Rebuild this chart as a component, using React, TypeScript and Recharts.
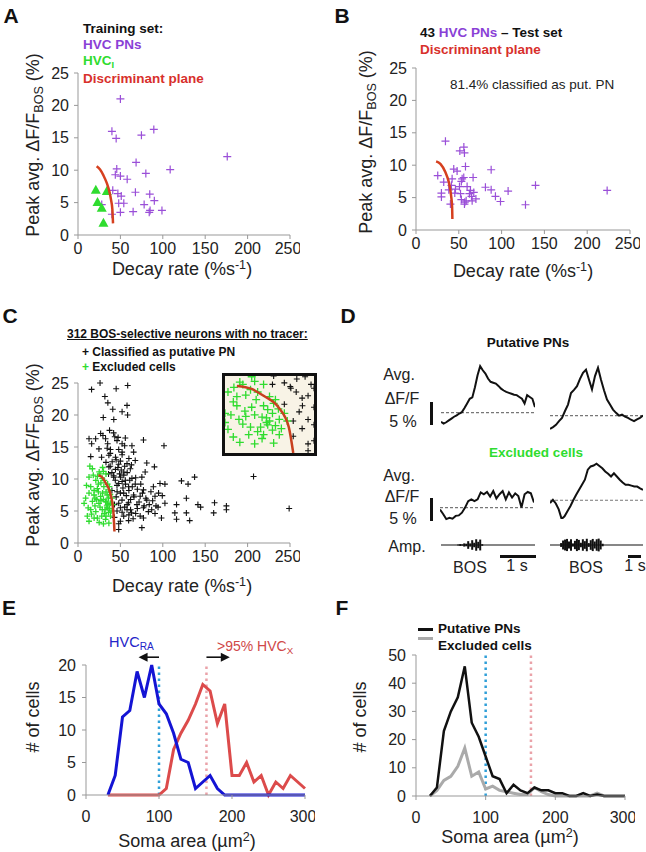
import React from 'react';
import {
  ScatterChart, Scatter, XAxis, YAxis, LineChart, Line, BarChart, Bar, ReferenceLine,
} from 'recharts';

const FONT = '"Liberation Sans", Arial, sans-serif';
const PURPLE = '#9a4fd8';
const PURPLE_TXT = '#8a3fd6';
const GREEN = '#2fdc2f';
const CURVE = '#d6401f';
const RED_TXT = '#d8302c';
const AXIS = '#999';
const E_BLUE = '#1414d4';
const E_RED = '#dc4b4b';
const DOT_BLUE = '#2f9fd8';
const DOT_PINK = '#eaa2a8';

// ---------- data ----------
const decayTicks = [0, 50, 100, 150, 200, 250];
const peakTicks = [0, 5, 10, 15, 20, 25];

const trainPN: [number, number][] = [
  [50, 21.0], [40, 16.0], [45, 14.9], [74.8, 15.4], [89.4, 16.3], [176, 12.1], [68.5, 11.2],
  [108.7, 10.1], [45.7, 10.2], [44, 9.3], [50, 9.1], [58, 8.6], [80, 9.5], [41, 6.9], [47, 6.4],
  [51, 6.0], [67.7, 6.6], [84.6, 6.3], [48, 4.9], [54, 4.9], [90, 5.3], [78, 4.7], [85, 3.8],
  [84, 3.5], [99, 3.8], [65, 3.6], [50, 3.5], [40, 3.2], [28, 4.7],
];
const trainInt: [number, number][] = [[21, 7.0], [34, 6.8], [23, 5.1], [28, 4.2], [30, 1.9]];
const planeA: [number, number][] = [[22, 10.6], [26, 10.1], [30, 9.2], [34, 8.0], [37, 6.7], [39, 5.4], [40.5, 4.0], [41.3, 1.8]];

const testPN: [number, number][] = [
  [34.4, 13.7], [51.2, 12.2], [55.9, 12.8], [56.6, 11.9], [57.8, 9.8], [25.4, 8.4], [32.4, 7.4],
  [44.1, 9.4], [48, 9.1], [53.9, 7.9], [55.8, 8.1], [66.7, 8.1], [87.8, 9.3], [41.4, 6.9],
  [46.1, 6.3], [50.8, 6.7], [59.7, 6.7], [63.6, 6.1], [62.4, 5.6], [67.5, 5.8], [81.1, 6.6],
  [87.8, 6.2], [92.8, 5.2], [98.7, 4.4], [107.6, 6.0], [127.9, 3.9], [139.6, 6.9], [223.3, 6.1],
  [29.7, 5.7], [29.7, 5.1], [40.2, 4.0], [53, 4.7], [57, 4.3], [58.6, 4.5], [64.8, 5.2], [70, 4.8],
  [45.3, 5.7], [52, 5.6], [65.6, 4.5], [38.3, 6.2], [56.6, 4.0], [42.2, 7.9], [53, 7.5],
];
const planeB: [number, number][] = [[23.5, 10.6], [28.5, 10.2], [34.4, 8.9], [38.3, 7.4], [41, 5.3], [42.2, 3.5], [42.5, 1.7]];

const noTracerPN: [number, number][] = [
  [16, 24.0], [26, 25.0], [45, 24.1], [58.6, 24.6], [31.7, 22.9], [35.2, 21.9], [41, 20.9], [57.8, 21.5],
  [52, 20.5], [58.5, 20.0], [29.8, 19.6], [42.2, 19.3], [37.2, 17.6], [26.7, 17.1], [13, 16.3], [20.8, 16.3],
  [29.4, 16.8], [32.5, 16.3], [43.4, 16.6], [47.3, 16.5], [55.8, 16.4], [77.2, 16.1], [101.4, 15.2], [16.1, 15.5],
  [24.7, 14.7], [34.4, 14.8], [38.3, 14.6], [52, 15.5], [63.6, 15.2], [15, 13.5], [27.8, 13.4], [36.4, 13.7],
  [44.2, 13.4], [52, 14.2], [65.6, 14.2], [40.3, 12.7], [48, 12.3], [57.8, 12.4], [67.5, 12.9], [36.4, 11.9],
  [44.2, 11.5], [54, 11.1], [61.7, 11.6], [81.1, 12.5], [90.1, 11.9], [42.2, 10.3], [50, 10.3], [55.8, 9.8],
  [63.6, 10.1], [75.3, 10.3], [79.2, 11.1], [48, 9.3], [59.7, 8.8], [67.5, 9.2], [77.2, 8.3], [88.9, 8.8],
  [96.7, 9.3], [102.5, 9.2], [46.1, 8.0], [53.9, 7.8], [65.6, 7.5], [73.3, 7.3], [81.1, 6.7], [90.8, 7.3],
  [99.4, 7.4], [51.9, 6.7], [59.7, 6.3], [69.5, 6.0], [77.2, 5.5], [86.9, 5.2], [94.4, 5.6], [102.5, 6.2],
  [50, 5.5], [57.8, 5.2], [63.2, 4.7], [73.3, 4.2], [83, 4.9], [90.8, 4.6], [98.4, 3.9], [53.9, 4.2],
  [50, 3.4], [59.7, 3.5], [77.2, 3.9], [75.3, 2.4], [48, 2.1], [122, 9.7], [129.8, 9.2], [137.5, 10.3],
  [116.2, 6.0], [127.8, 7.0], [114.2, 4.7], [127.8, 4.7], [116.2, 3.7], [131.7, 3.5], [141.4, 6.0], [144.6, 5.6],
  [161, 6.3], [160, 4.7], [175, 5.8], [175, 5.2], [207, 10.4], [249, 5.4],
  [38, 12.0], [40, 11.0], [42, 10.5], [44, 9.8], [46, 9.0], [47, 11.8], [49, 10.8], [50, 12.8], [51, 11.4],
  [52, 9.6], [53, 8.6], [54, 10.6], [55, 12.0], [56, 9.2], [57, 7.4], [58, 11.0], [60, 8.2], [61, 9.8],
  [62, 6.8], [64, 8.8], [66, 7.2], [68, 10.2], [70, 8.4], [72, 6.4], [74, 9.2], [76, 7.8], [78, 5.8],
  [80, 7.0], [84, 6.0], [86, 8.0], [88, 6.6], [92, 5.8], [95, 7.8], [45, 7.2], [48, 6.2], [50, 7.8],
  [52, 4.8], [55, 5.6], [58, 6.0], [60, 4.4], [62, 5.2], [65, 3.8], [68, 4.6], [70, 5.4], [45, 13.0],
  [48, 14.6], [52, 13.8], [55, 15.2], [60, 13.2], [63, 12.2], [38, 14.0], [35, 15.5], [42, 17.2], [46, 16.0],
  [33, 12.6], [36, 10.8], [40, 8.2], [43, 6.0], [46, 5.0], [48, 3.0], [43, 4.0],
];
const excluded: [number, number][] = [
  [17, 11.6], [25, 11.1], [13, 10.3], [21, 9.8], [28.6, 10.1], [15, 8.8], [22.8, 8.5], [30.5, 8.8], [36.4, 8.3],
  [13, 7.8], [18.9, 7.5], [26.7, 7.3], [34.4, 7.5], [7.2, 6.2], [17, 6.5], [24.7, 6.2], [32.5, 6.5], [38.3, 6.2],
  [15, 5.2], [21, 4.9], [28.6, 5.2], [34.4, 5.5], [13, 3.4], [22.8, 3.9], [32.5, 3.7], [38.3, 4.2], [36.4, 3.1],
  [10, 9.0], [12, 5.5], [14, 12.0], [18, 10.6], [20, 7.0], [23, 10.4], [24, 8.0], [26, 5.6], [27, 9.4], [29, 7.8],
  [30, 6.8], [31, 9.8], [32, 5.2], [33, 8.0], [34, 6.4], [35, 9.2], [36, 7.0], [37, 5.4], [38, 7.6], [30, 11.2],
  [33, 10.8], [35, 6.0], [37, 8.8], [39, 5.0], [40, 7.0], [41, 6.0], [28, 4.2], [25, 3.2], [19, 3.9], [16, 4.5],
  [11, 4.2], [9, 7.0], [19, 8.2], [27, 6.6], [31, 4.6], [33, 4.2], [34, 5.8], [36, 4.8], [30, 3.0], [20, 5.8],
  [22, 6.8], [26, 10.8], [29, 11.8], [24, 9.2],
];
const planeC: [number, number][] = [[24, 10.6], [29, 10.2], [33, 9.3], [38, 7.8], [41.5, 5.2], [43, 1.8]];
const insetX = [20, 50];
const insetY = [1.8, 11.9];

// D: average dF/F traces (%), evenly sampled
const putTraceA = [-2.0, -2.4, -2.1, -1.7, -1.3, -0.9, -0.6, -0.2, 0.1, 1.0, 2.0, 3.0, 3.3, 5.5, 8.1, 10.1, 9.2, 8.5, 7.4, 6.7, 6.5, 6.3, 5.8, 5.2, 4.8, 4.5, 4.3, 4.1, 3.9, 3.8, 3.4, 3.0, 2.0, 3.8, 3.4, 3.0, 1.2];
const putTraceB = [-2.9, -2.5, -2.0, -1.2, -0.5, 1.0, 2.4, 4.9, 5.6, 6.4, 8.0, 9.3, 10.0, 7.8, 5.7, 8.6, 10.4, 7.8, 5.5, 3.5, 2.4, 1.3, 0.6, 0, 0.2, -0.2, -0.5, -0.9, -1.2, -0.8, -0.5, 0];
const excTraceA = [-0.4, -1.4, -2.5, -2.2, -2.4, -1.8, -1.7, -1.1, 0, 1.4, 1.8, 1.4, 1.8, 3.3, 2.9, 3.4, 2.4, 3.6, 2.0, 2.9, 3.6, 1.8, 3.3, 2.2, 3.1, 2.5, 0, 2.9, 3.4, 3.1, 1.1];
const excTraceB = [-0.6, 0.1, -0.7, -2.0, -4.1, -3.5, -2.4, -1.3, 0.0, 1.2, 2.3, 3.4, 4.5, 6.7, 7.4, 7.6, 8.0, 7.5, 7.0, 6.3, 5.8, 5.2, 5.9, 5.2, 4.5, 3.9, 3.4, 3.4, 3.2, 3.0, 3.0, 2.6, 2.3];
const bosAmpA = [0, 0, 0, 0, 0, 0, 0, 0, 0.3, 0.6, 0.4, 1.0, 0.8, 2.4, 1.0, 3.0, 1.4, 3.6, 2.0, 3.4, 0.5, 0, 0, 0, 0, 0, 0, 0, 0, 0, 0, 0, 0, 0, 0, 0, 0, 0, 0, 0, 0, 0, 0, 0, 0, 0, 0];
const bosAmpB = [0, 0, 0, 0, 0, 1.2, 2.8, 3.4, 3.8, 2.2, 3.6, 1.0, 2.6, 3.8, 3.2, 1.4, 3.6, 2.4, 3.9, 1.2, 3.0, 3.8, 2.2, 3.6, 4.0, 2.8, 0.8, 0, 0, 0, 0, 0, 0, 0, 0, 0, 0, 0, 0, 0, 0, 0, 0, 0, 0, 0, 0];

// E: soma area histograms
const areaBinsE = [30, 40, 50, 60, 70, 80, 90, 100, 110, 120, 130, 140, 150, 160, 170, 180, 190, 200, 210, 220, 230, 240, 250, 260, 270, 280, 290, 300];
const hvcRA = [0, 3, 12, 13, 19, 15, 20, 14, 12.5, 9.5, 5.5, 5, 1, 2, 3, 1, 0, 0, 0, 0, 0, 0, 0, 0, 0, 0, 0, 0];
const hvcX = [0, 0, 0, 0, 0, 0, 0, 0, 1, 7, 9.5, 11.5, 14, 17, 16, 11, 14, 3, 3, 5, 2, 3, 0, 2, 1, 3, 2, 1];
const countTicksE = [0, 5, 10, 15, 20];
const areaTicks = [0, 100, 200, 300];
const raCutoff = 100;
const xCutoff = 165;

// F
const areaBinsF = [20, 30, 40, 50, 60, 70, 80, 90, 100, 110, 120, 130, 140, 150, 160, 170, 180, 190, 200, 210, 220, 230, 240, 250, 260, 270, 280, 290, 300];
const putPNs = [0, 3, 23, 30, 35, 46, 26, 21, 14, 7, 6, 1, 4, 2, 1, 3, 2, 2, 1, 1, 0, 0, 1, 0, 0.5, 0, 0, 0, 0];
const exclCells = [0, 2, 5.5, 7, 10.5, 17, 7, 8.5, 2.5, 3.5, 2, 1.5, 1, 0.5, 0.5, 3, 1.5, 0.5, 0, 0, 0, 0, 0, 0, 1, 0, 0, 0, 0];
const countTicksF = [0, 10, 20, 30, 40, 50];

// ---------- helpers ----------
const pts = (a: [number, number][]) => a.map(([x, y]) => ({ x, y }));

const cross = (color: string, r: number, sw: number) => (p: any) => (
  <path d={`M${p.cx - r},${p.cy}H${p.cx + r}M${p.cx},${p.cy - r}V${p.cy + r}`} stroke={color} strokeWidth={sw} fill="none" />
);
const triangle = (p: any) => (
  <polygon points={`${p.cx},${p.cy - 5} ${p.cx - 5},${p.cy + 4} ${p.cx + 5},${p.cy + 4}`} fill={GREEN} />
);
const noShape = () => <g />;

const Arrow = (p: any) => {
  const { x1, y1, x2, y2 } = p;
  const d = Math.sign(x2 - x1);
  return (
    <g>
      <line x1={x1} y1={y1} x2={x2 - d * 6} y2={y2} stroke="#111" strokeWidth={1.6} />
      <polygon points={`${x2},${y2} ${x2 - d * 9},${y2 - 4.5} ${x2 - d * 9},${y2 + 4.5}`} fill="#111" />
    </g>
  );
};

const tickStyle = { fontSize: 16, fill: '#222', fontFamily: FONT };

const Txt = ({ x, y, size = 16, bold = false, color = '#222', anchor = 'middle', children, style }: any) => (
  <div
    style={{
      position: 'absolute', left: x, top: y,
      transform: anchor === 'middle' ? 'translate(-50%,-50%)' : 'translate(0,-50%)',
      fontSize: size, fontWeight: bold ? 700 : 400, color, fontFamily: FONT,
      whiteSpace: 'nowrap', lineHeight: 1, ...style,
    }}
  >
    {children}
  </div>
);
const VTxt = ({ x, y, size = 18, children }: any) => (
  <div
    style={{
      position: 'absolute', left: x, top: y, transform: 'translate(-50%,-50%) rotate(-90deg)',
      fontSize: size, color: '#222', fontFamily: FONT, whiteSpace: 'nowrap', lineHeight: 1,
    }}
  >
    {children}
  </div>
);
const Sub = ({ children }: any) => <span style={{ fontSize: '0.7em', position: 'relative', top: '0.3em' }}>{children}</span>;
const Sup = ({ children }: any) => <span style={{ fontSize: '0.7em', position: 'relative', top: '-0.45em' }}>{children}</span>;

const PeakLabel = () => (<>Peak avg. ΔF/F<Sub>BOS</Sub> (%)</>);
const DecayLabel = () => (<>Decay rate (%s<Sup>-1</Sup>)</>);
const SomaLabel = () => (<>Soma area (µm<Sup>2</Sup>)</>);

const DecayChart = ({ left, top, width, height, margin, children }: any) => (
  <div style={{ position: 'absolute', left, top }}>
    <ScatterChart width={width} height={height} margin={margin}>
      <XAxis type="number" dataKey="x" domain={[0, 250]} ticks={decayTicks} height={40}
        tick={tickStyle} tickSize={4} tickMargin={4} axisLine={{ stroke: AXIS }} tickLine={{ stroke: AXIS }} />
      <YAxis type="number" dataKey="y" domain={[0, 25]} ticks={peakTicks} width={60}
        tick={tickStyle} tickSize={4} tickMargin={5} axisLine={{ stroke: AXIS }} tickLine={{ stroke: AXIS }} />
      {children}
    </ScatterChart>
  </div>
);

const Plane = ({ data, color = CURVE }: any) => (
  <Scatter data={pts(data)} line={{ stroke: color, strokeWidth: 2.5 }} lineJointType="monotoneX"
    shape={noShape} isAnimationActive={false} legendType="none" />
);

const Trace = ({ left, top, width, data }: any) => (
  <div style={{ position: 'absolute', left, top }}>
    <LineChart width={width} height={69} data={data.map((v: number, i: number) => ({ i, v }))}
      margin={{ top: 0, right: 0, bottom: 0, left: 0 }}>
      <XAxis dataKey="i" type="number" domain={[0, data.length - 1]} hide />
      <YAxis domain={[-4, 11]} hide />
      <ReferenceLine y={0} stroke="#777" strokeDasharray="3 2" strokeWidth={1.2} />
      <Line dataKey="v" stroke="#111" strokeWidth={2} dot={false} isAnimationActive={false} />
    </LineChart>
  </div>
);

const Amp = ({ left, top, width, data }: any) => (
  <div style={{ position: 'absolute', left, top }}>
    <BarChart width={width} height={16} data={data.map((a: number, i: number) => ({ i, r: [-a, a] }))}
      margin={{ top: 0, right: 0, bottom: 0, left: 0 }} barCategoryGap="10%">
      <XAxis dataKey="i" hide />
      <YAxis domain={[-5, 5]} hide />
      <ReferenceLine y={0} stroke="#111" strokeWidth={1.2} />
      <Bar dataKey="r" fill="#111" isAnimationActive={false} />
    </BarChart>
  </div>
);

const Bar2 = ({ left, top, width, height }: any) => (
  <div style={{ position: 'absolute', left, top, width, height, background: '#111' }} />
);

export default function App() {
  const eData = areaBinsE.map((a, i) => ({ area: a, ra: hvcRA[i], x: hvcX[i] }));
  const fData = areaBinsF.map((a, i) => ({ area: a, pn: putPNs[i], ex: exclCells[i] }));
  const inX = (p: [number, number]) => p[0] >= insetX[0] && p[0] <= insetX[1] && p[1] >= insetY[0] && p[1] <= insetY[1];

  return (
    <div style={{ position: 'absolute', left: 0, top: 0, width: 646, height: 852, background: '#fff', overflow: 'hidden', fontFamily: FONT }}>
      {/* ---------- A ---------- */}
      <DecayChart left={0} top={0} width={300} height={290} margin={{ top: 73, right: 10, bottom: 15, left: 18 }}>
        <Scatter data={pts(trainPN)} shape={cross(PURPLE, 4, 1.2)} isAnimationActive={false} />
        <Scatter data={pts(trainInt)} shape={triangle} isAnimationActive={false} />
        <Plane data={planeA} />
      </DecayChart>
      <Txt x={11} y={15} size={21} bold color="#111">A</Txt>
      <Txt x={83} y={29} size={13.5} bold color="#111" anchor="left">Training set:</Txt>
      <Txt x={83} y={45} size={13.5} bold color={PURPLE_TXT} anchor="left">HVC PNs</Txt>
      <Txt x={83} y={61} size={13.5} bold color={GREEN} anchor="left">HVC<Sub>I</Sub></Txt>
      <Txt x={83} y={79} size={13.5} bold color={RED_TXT} anchor="left">Discriminant plane</Txt>
      <Txt x={182} y={269} size={18}><DecayLabel /></Txt>
      <VTxt x={33} y={145}><PeakLabel /></VTxt>

      {/* ---------- B ---------- */}
      <DecayChart left={323} top={0} width={317} height={285} margin={{ top: 68, right: 10, bottom: 15, left: 33 }}>
        <Scatter data={pts(testPN)} shape={cross(PURPLE, 4, 1.2)} isAnimationActive={false} />
        <Plane data={planeB} />
      </DecayChart>
      <Txt x={342} y={15} size={21} bold color="#111">B</Txt>
      <Txt x={420} y={33} size={13.5} bold color="#111" anchor="left">43 <span style={{ color: PURPLE_TXT }}>HVC PNs</span> – Test set</Txt>
      <Txt x={420} y={50} size={13.5} bold color={RED_TXT} anchor="left">Discriminant plane</Txt>
      <Txt x={450} y={85} size={13.5} color="#222" anchor="left">81.4% classified as put. PN</Txt>
      <Txt x={523} y={271} size={18}><DecayLabel /></Txt>
      <VTxt x={366} y={142}><PeakLabel /></VTxt>

      {/* ---------- C ---------- */}
      <DecayChart left={0} top={300} width={300} height={298} margin={{ top: 83, right: 10, bottom: 15, left: 18 }}>
        <Scatter data={pts(noTracerPN)} shape={cross('#111', 3, 1.1)} isAnimationActive={false} />
        <Scatter data={pts(excluded)} shape={cross(GREEN, 3, 1.3)} isAnimationActive={false} />
        <Plane data={planeC} color="#c8401f" />
      </DecayChart>
      <div style={{ position: 'absolute', left: 222, top: 373, width: 89, height: 77, border: '3px solid #111', background: '#f8f3e6' }}>
        <ScatterChart width={89} height={77} margin={{ top: 0, right: 0, bottom: 0, left: 0 }}>
          <XAxis type="number" dataKey="x" domain={insetX} hide allowDataOverflow />
          <YAxis type="number" dataKey="y" domain={insetY} hide allowDataOverflow />
          <Scatter data={pts(noTracerPN.filter(inX))} shape={cross('#111', 3, 1.1)} isAnimationActive={false} />
          <Scatter data={pts(excluded.filter(inX))} shape={cross(GREEN, 4, 1.3)} isAnimationActive={false} />
          <Plane data={planeC} color="#c8401f" />
        </ScatterChart>
      </div>
      <Txt x={10} y={315} size={21} bold color="#111">C</Txt>
      <Txt x={67} y={334} size={12} bold color="#111" anchor="left" style={{ textDecoration: 'underline' }}>312 BOS-selective neurons with no tracer:</Txt>
      <Txt x={82} y={352} size={12} bold color="#111" anchor="left">+ Classified as putative PN</Txt>
      <Txt x={82} y={367} size={12} bold color="#111" anchor="left"><span style={{ color: GREEN }}>+</span> Excluded cells</Txt>
      <Txt x={182} y={586} size={18}><DecayLabel /></Txt>
      <VTxt x={33} y={455}><PeakLabel /></VTxt>

      {/* ---------- D ---------- */}
      <Txt x={348} y={315} size={21} bold color="#111">D</Txt>
      <Txt x={528} y={343} size={13.5} bold color="#111">Putative PNs</Txt>
      <Txt x={399} y={375} size={16}>Avg.</Txt>
      <Txt x={402} y={399} size={16}>ΔF/F</Txt>
      <Txt x={403} y={422} size={16}>5 %</Txt>
      <Bar2 left={430} top={402} width={3} height={23} />
      <Trace left={441} top={362} width={94} data={putTraceA} />
      <Trace left={550} top={365} width={93} data={putTraceB} />
      <Txt x={536} y={453} size={13.5} bold color={GREEN}>Excluded cells</Txt>
      <Txt x={399} y={476} size={16}>Avg.</Txt>
      <Txt x={402} y={497} size={16}>ΔF/F</Txt>
      <Txt x={403} y={519} size={16}>5 %</Txt>
      <Bar2 left={430} top={498} width={3} height={23} />
      <Trace left={440} top={457} width={94} data={excTraceA} />
      <Trace left={550} top={450} width={93} data={excTraceB} />
      <Txt x={407} y={547} size={16}>Amp.</Txt>
      <Amp left={441} top={537} width={94} data={bosAmpA} />
      <Amp left={550} top={537} width={93} data={bosAmpB} />
      <Bar2 left={500} top={555} width={36} height={3} />
      <Bar2 left={628} top={555} width={13} height={3} />
      <Txt x={470} y={568} size={16}>BOS</Txt>
      <Txt x={517} y={566} size={16}>1 s</Txt>
      <Txt x={586} y={568} size={16}>BOS</Txt>
      <Txt x={635} y={566} size={16}>1 s</Txt>

      {/* ---------- E ---------- */}
      <div style={{ position: 'absolute', left: 0, top: 600 }}>
        <LineChart width={315} height={240} data={eData} margin={{ top: 65, right: 10, bottom: 15, left: 26 }}>
          <XAxis type="number" dataKey="area" domain={[0, 300]} ticks={areaTicks} height={30}
            tick={tickStyle} tickSize={4} tickMargin={12} axisLine={{ stroke: AXIS }} tickLine={{ stroke: AXIS }} />
          <YAxis domain={[0, 20]} ticks={countTicksE} width={60}
            tick={tickStyle} tickSize={4} tickMargin={6} axisLine={{ stroke: AXIS }} tickLine={{ stroke: AXIS }} />
          <ReferenceLine x={raCutoff} stroke={DOT_BLUE} strokeWidth={2.5} strokeDasharray="2.5 3.5" />
          <ReferenceLine x={xCutoff} stroke={DOT_PINK} strokeWidth={2.5} strokeDasharray="2.5 3.5" />
          <Line dataKey="x" stroke={E_RED} strokeWidth={3} dot={false} isAnimationActive={false} />
          <Line dataKey="ra" stroke={E_BLUE} strokeWidth={3} dot={false} isAnimationActive={false} />
          <ReferenceLine segment={[{ x: raCutoff, y: 21.2 }, { x: 72, y: 21.2 }]} ifOverflow="visible" shape={Arrow} />
          <ReferenceLine segment={[{ x: xCutoff, y: 21.2 }, { x: 197, y: 21.2 }]} ifOverflow="visible" shape={Arrow} />
        </LineChart>
      </div>
      <Txt x={9} y={607} size={21} bold color="#111">E</Txt>
      <Txt x={109} y={642} size={14.5} color="#2424c8" anchor="left">HVC<Sub>RA</Sub></Txt>
      <Txt x={217} y={646} size={14} color="#d04848" anchor="left">&gt;95% HVC<Sub>X</Sub></Txt>
      <VTxt x={33} y={717}># of cells</VTxt>
      <Txt x={187} y={841} size={18}><SomaLabel /></Txt>

      {/* ---------- F ---------- */}
      <div style={{ position: 'absolute', left: 323, top: 600 }}>
        <LineChart width={312} height={241} data={fData} margin={{ top: 55, right: 10, bottom: 15, left: 33 }}>
          <XAxis type="number" dataKey="area" domain={[0, 300]} ticks={areaTicks} height={30}
            tick={tickStyle} tickSize={4} tickMargin={12} axisLine={{ stroke: AXIS }} tickLine={{ stroke: AXIS }} />
          <YAxis domain={[0, 50]} ticks={countTicksF} width={60}
            tick={tickStyle} tickSize={4} tickMargin={6} axisLine={{ stroke: AXIS }} tickLine={{ stroke: AXIS }} />
          <ReferenceLine x={raCutoff} stroke={DOT_BLUE} strokeWidth={2.5} strokeDasharray="2.5 3.5" />
          <ReferenceLine x={xCutoff} stroke={DOT_PINK} strokeWidth={2.5} strokeDasharray="2.5 3.5" />
          <Line dataKey="ex" stroke="#aaa" strokeWidth={3} dot={false} isAnimationActive={false} />
          <Line dataKey="pn" stroke="#111" strokeWidth={2.5} dot={false} isAnimationActive={false} />
        </LineChart>
      </div>
      <Txt x={342} y={607} size={21} bold color="#111">F</Txt>
      <div style={{ position: 'absolute', left: 418, top: 628, width: 15, height: 3, background: '#111' }} />
      <div style={{ position: 'absolute', left: 418, top: 637, width: 15, height: 3, background: '#aaa' }} />
      <Txt x={438} y={629} size={13.5} bold color="#111" anchor="left">Putative PNs</Txt>
      <Txt x={438} y={646} size={13.5} bold color="#111" anchor="left">Excluded cells</Txt>
      <VTxt x={360} y={717}># of cells</VTxt>
      <Txt x={510} y={837} size={18}><SomaLabel /></Txt>
    </div>
  );
}
